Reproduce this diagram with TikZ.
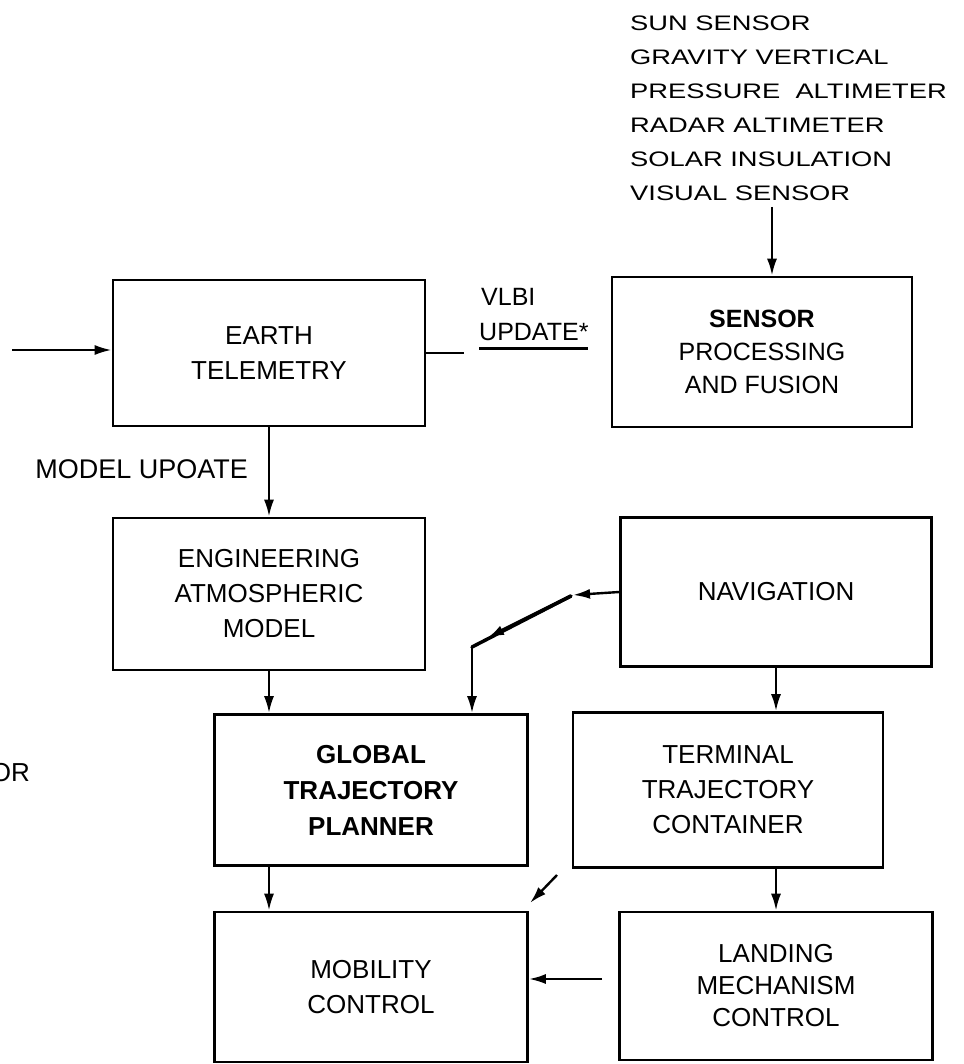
\documentclass[tikz,border=0pt]{standalone}
\usepackage{fontspec}
\setmainfont{Liberation Sans}
\newfontfamily\widefont{Liberation Sans}[FakeStretch=1.3]
\usetikzlibrary{arrows.meta}
\begin{document}
\begin{tikzpicture}[x=1pt,y=-1pt,
  blk/.style={draw,line width=2.6pt,inner sep=0pt,align=center,font=\fontsize{26}{35}\selectfont},
  lbl/.style={inner sep=0pt,font=\fontsize{26}{35}\selectfont},
  arr/.style={line width=2.4pt,-{Latex[length=17pt,width=10pt]}},
  ln/.style={line width=2.4pt}]
\useasboundingbox (0,0) rectangle (963,1064);

% boxes
\node[blk,minimum width=312pt,minimum height=146pt] (earth) at (269,353) {EARTH\\TELEMETRY};
\node[blk,minimum width=300pt,minimum height=150pt,font=\fontsize{25}{33}\selectfont] (sensor) at (762,352) {\textbf{SENSOR}\\PROCESSING\\AND FUSION};
\node[blk,minimum width=312pt,minimum height=152pt] (eng) at (269,594) {ENGINEERING\\ATMOSPHERIC\\MODEL};
\node[blk,minimum width=311pt,minimum height=149pt] (nav) at (776,592) {NAVIGATION};
\node[blk,minimum width=313pt,minimum height=151pt,font=\fontsize{26}{36}\selectfont\bfseries] (glob) at (371,790) {GLOBAL\\TRAJECTORY\\PLANNER};
\node[blk,minimum width=310pt,minimum height=155pt] (term) at (728,790) {TERMINAL\\TRAJECTORY\\CONTAINER};
\node[blk,minimum width=313pt,minimum height=150pt] (mob) at (371,987) {MOBILITY\\CONTROL};
\node[blk,minimum width=313pt,minimum height=148pt,font=\fontsize{26}{32}\selectfont] (land) at (776,986) {LANDING\\MECHANISM\\CONTROL};

% sensor list
\node[anchor=north west,inner sep=0pt,align=left,font=\widefont\fontsize{21}{34}\selectfont] (list) at (630,16)
  {SUN SENSOR\\GRAVITY VERTICAL\\PRESSURE\ \ ALTIMETER\\RADAR ALTIMETER\\SOLAR INSULATION\\VISUAL SENSOR};
\coordinate (s0) at (772,207);
\draw[arr] (s0) -- (s0 |- sensor.north);

% labels
\node[lbl,anchor=east,font=\fontsize{27}{35}\selectfont] (mu) at (248,469) {MODEL UPOATE};
\node[lbl,anchor=west,font=\fontsize{25}{35}\selectfont] (vlbi) at (481,297) {VLBI};
\node[lbl,anchor=west,font=\fontsize{25}{35}\selectfont] (upd) at (479,332) {UPDATE*};
\draw[ln] ([yshift=-8pt]upd.base west) -- ++(109,0);
\node[lbl,anchor=east] (or) at (30,773) {OR};

% input and VLBI line
\coordinate (in) at (12,350);
\draw[arr] (in) -- (in -| earth.west);
\draw[ln] (earth.east) -- ++(38,0);

% vertical flows
\draw[arr] (earth.south) -- (eng.north);
\draw[arr] (eng.south) -- (eng.south |- glob.north);
\draw[arr] (eng.south |- glob.south) -- (eng.south |- mob.north);
\draw[arr] (nav.south) -- (nav.south |- term.north);
\draw[arr] (nav.south |- term.south) -- (nav.south |- land.north);

% landing -> mobility
\coordinate (lm) at (602,979);
\draw[arr] (lm) -- (lm -| mob.east);

% navigation -> global
\coordinate (n1) at (573,595);
\coordinate (n2) at (571,596);
\coordinate (n3) at (487,638);
\coordinate (n4) at (472,647);
\draw[arr] (nav.west) -- (n1);
\draw[line width=3.5pt,line cap=round] (n2) -- (n4);
\draw[arr,line width=3.5pt] (n2) -- (n3);
\draw[arr] (n4) -- (n4 |- glob.north);

% stray arrow
\coordinate (st1) at (557,875);
\coordinate (st2) at (530,903);
\draw[arr] (st1) -- (st2);
\end{tikzpicture}
\end{document}
